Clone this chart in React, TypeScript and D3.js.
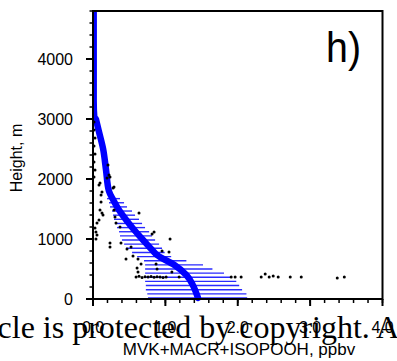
import React from "react";
import * as d3 from "d3";

// Canvas and plot frame
const W = 397;
const H = 361;
const PLOT = { left: 93, right: 382.5, top: 11, bottom: 299 };

// Axis ticks
const xTickValues = [0, 1, 2, 3, 4];
const xTickLabels = ["0.0", "1.0", "2.0", "3.0", "4.0"];
const yTickValues = [0, 1000, 2000, 3000, 4000];
const yTickLabels = ["0", "1000", "2000", "3000", "4000"];

// Model mean profile (height in m, mixing ratio in ppbv)
const profileHeight = [4800, 3300, 3000, 2800, 2500, 2150, 1800, 1650, 1500, 1300, 1150, 1000, 800, 730, 570, 400, 230, 20];
const profileValue = [0.03, 0.03, 0.04, 0.08, 0.14, 0.18, 0.22, 0.28, 0.35, 0.47, 0.57, 0.68, 0.83, 0.89, 1.12, 1.29, 1.38, 1.45];

// Model spread per level (low / high edge, ppbv)
const barHeight = [17, 86, 155, 224, 293, 362, 431, 500, 569, 638, 707, 776, 845, 914, 983, 1052, 1121, 1190, 1259, 1328, 1397, 1466, 1535, 1604, 1673];
const barLow = [0.76, 0.75, 0.73, 0.73, 0.72, 0.72, 0.72, 0.72, 0.72, 0.705, 0.61, 0.54, 0.456, 0.43, 0.40, 0.373, 0.36, 0.332, 0.304, 0.29, 0.277, 0.263, 0.235, 0.221, 0.194];
const barHigh = [2.13, 2.12, 2.06, 2.02, 1.98, 1.91, 1.81, 1.65, 1.52, 1.29, 1.08, 0.99, 0.954, 0.913, 0.858, 0.816, 0.775, 0.719, 0.678, 0.636, 0.581, 0.539, 0.47, 0.429, 0.373];

// Aircraft observations
const obsValue = [
  0.014, 0.014, 0.028, 0.014, 0.028, 0.014, 0.028, 0.014,
  0.207, 0.221, 0.235, 0.194, 0.097, 0.083, 0.29, 0.277, 0.124, 0.111,
  0.111, 0.097, 0.124, 0.138, 0.083, 0.055, 0.028, 0.041, 0.055, 0.041,
  0.29, 0.304, 0.318, 0.373, 0.636, 0.844, 0.816, 1.065,
  0.235, 0.235, 0.387, 0.47, 0.526, 0.456, 0.553, 0.622, 0.664, 0.609, 0.622,
  0.871, 0.885, 0.954, 1.05, 1.09, 1.19,
  0.595, 0.636, 0.678, 0.719, 0.761, 0.802, 0.844, 0.885, 0.927, 0.968, 1.01,
  1.909, 1.964, 2.047, 2.324, 2.379, 2.434, 2.49, 2.559, 2.725, 2.877, 3.375, 3.472,
];
const obsHeight = [
  2950, 2817, 2683, 2550, 2417, 2283, 2150, 2033,
  2233, 2067, 2033, 2017, 1933, 1900, 1867, 1850, 1783, 1733,
  1617, 1483, 1433, 1400, 1317, 1267, 1183, 1117, 1067, 1000,
  1483, 1367, 1267, 1200, 1433, 1117, 1083, 1000,
  933, 867, 933, 833, 867, 667, 717, 667, 583, 517, 450,
  583, 500, 800, 783, 450, 367,
  367, 380, 360, 372, 365, 375, 362, 370, 366, 360, 368,
  367, 367, 367, 367, 417, 367, 383, 367, 367, 367, 350, 367,
];

const FONT = "'Liberation Sans', Arial, Helvetica, sans-serif";

export default function App() {
  const x = d3.scaleLinear().domain([0, 4]).range([PLOT.left, PLOT.right]);
  const y = d3.scaleLinear().domain([0, 4800]).range([PLOT.bottom, PLOT.top]);

  const profile = profileHeight.map((h, i) => ({ h, v: profileValue[i] }));
  const line = d3
    .line<{ h: number; v: number }>()
    .x((d) => x(d.v))
    .y((d) => y(d.h))
    .curve(d3.curveMonotoneY);

  const lower = profile.filter((d) => d.h <= 3000);

  const xMinor = x.ticks(20);
  const yMinor = y.ticks(24);

  return (
    <div style={{ position: "absolute", left: 0, top: 0 }}>
      <svg width={W} height={H} style={{ display: "block" }} fontFamily={FONT}>
        <rect width={W} height={H} fill="#fff" />

        {/* spread bars */}
        {barHeight.map((h, i) => (
          <line
            key={"b" + i}
            x1={x(barLow[i])}
            x2={x(barHigh[i])}
            y1={y(h)}
            y2={y(h)}
            stroke="#2a2aff"
            strokeWidth={1.4}
          />
        ))}

        {/* model profile */}
        <path d={line(profile) || ""} fill="none" stroke="#0000ff" strokeWidth={3.5} strokeLinejoin="round" />
        <path d={line(lower) || ""} fill="none" stroke="#0000ff" strokeWidth={6.5} strokeLinejoin="round" strokeLinecap="round" />

        {/* observations */}
        {obsValue.map((v, i) => (
          <circle key={"o" + i} cx={x(v)} cy={y(obsHeight[i])} r={1.5} fill="#000" />
        ))}

        {/* frame */}
        <rect
          x={PLOT.left}
          y={PLOT.top}
          width={PLOT.right - PLOT.left}
          height={PLOT.bottom - PLOT.top}
          fill="none"
          stroke="#000"
          strokeWidth={2}
        />

        {/* x ticks */}
        {xMinor.map((t, i) => (
          <line key={"xm" + i} x1={x(t)} x2={x(t)} y1={PLOT.bottom} y2={PLOT.bottom + 4} stroke="#000" strokeWidth={1.5} />
        ))}
        {xTickValues.map((t, i) => (
          <g key={"xt" + i}>
            <line x1={x(t)} x2={x(t)} y1={PLOT.bottom} y2={PLOT.bottom + 7} stroke="#000" strokeWidth={2} />
            <text x={x(t)} y={333} textAnchor="middle" fontSize={16} fill="#000">
              {xTickLabels[i]}
            </text>
          </g>
        ))}

        {/* y ticks */}
        {yMinor.filter((t) => t <= 4800).map((t, i) => (
          <line key={"ym" + i} x1={PLOT.left - 3.5} x2={PLOT.left} y1={y(t)} y2={y(t)} stroke="#000" strokeWidth={1.5} />
        ))}
        {yTickValues.map((t, i) => (
          <g key={"yt" + i}>
            <line x1={PLOT.left - 7} x2={PLOT.left} y1={y(t)} y2={y(t)} stroke="#000" strokeWidth={2} />
            <text x={73} y={y(t)} textAnchor="end" dominantBaseline="central" fontSize={16} fill="#000">
              {yTickLabels[i]}
            </text>
          </g>
        ))}

        {/* axis titles */}
        <text transform="translate(22,158) rotate(-90)" textAnchor="middle" fontSize={16} fill="#000">
          Height, m
        </text>
        <text x={239} y={355} textAnchor="middle" fontSize={17} fill="#000">
          MVK+MACR+ISOPOOH, ppbv
        </text>

        {/* panel letter */}
        <text x={326} y={62} fontSize={42} fill="#000" textLength={35} lengthAdjust="spacingAndGlyphs">
          h)
        </text>

        {/* notice line across the lower edge */}
        <text x={-110} y={338} fontFamily="'Liberation Serif', 'Times New Roman', serif" fontSize={32} fill="#000">
          This article is protected by copyright. All rights reserved.
        </text>
      </svg>
    </div>
  );
}
